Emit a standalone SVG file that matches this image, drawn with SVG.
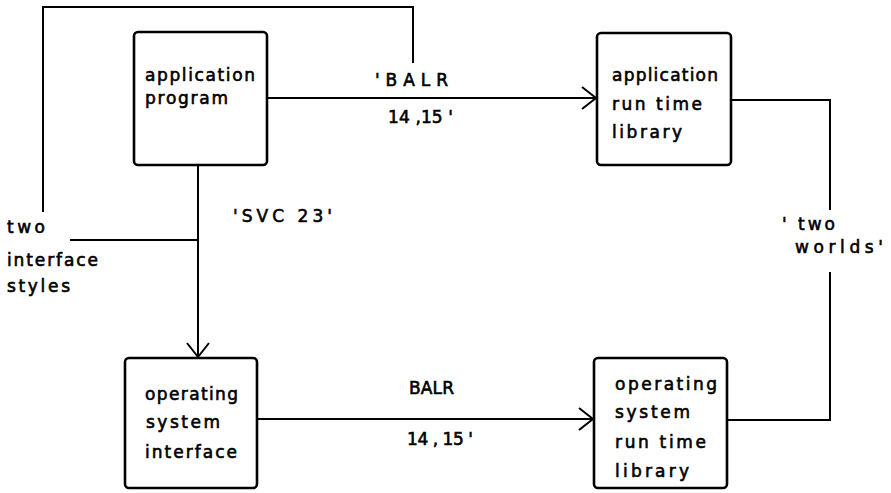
<svg xmlns="http://www.w3.org/2000/svg" width="891" height="493" viewBox="0 0 891 493">
<style>
.box{fill:#fff;stroke:#000;stroke-width:2.6}
.ln{fill:none;stroke:#000;stroke-width:2}
text{font-family:"DejaVu Sans","Liberation Sans",sans-serif;font-size:17px;fill:#000;stroke:#000;stroke-width:0.6}
</style>
<defs>
<marker id="arr" markerUnits="userSpaceOnUse" viewBox="-16 -13 18 26" refX="0" refY="0" markerWidth="18" markerHeight="26" orient="auto">
<path d="M-14,-11 L0,0 L-14,11" fill="none" stroke="#000" stroke-width="2"/>
</marker>
</defs>
<rect width="891" height="493" fill="#fff"/>
<g id="connectors">
<path class="ln" d="M43,212 V7 H413 V63"/>
<path class="ln" d="M70,240 H198"/>
<path class="ln" d="M198,165 V357" marker-end="url(#arr)"/>
<path class="ln" d="M267,98 H596" marker-end="url(#arr)"/>
<path class="ln" d="M257,419 H593" marker-end="url(#arr)"/>
<path class="ln" d="M731,100 H830 V210"/>
<path class="ln" d="M830,272 V420 H727"/>
<text x="375" y="86" textLength="73" lengthAdjust="spacing">'BALR</text>
<text x="388" y="123" textLength="65" lengthAdjust="spacing">14 ,15 '</text>
<text x="233" y="222" textLength="99" lengthAdjust="spacing">'SVC 23'</text>
<text x="409" y="394" textLength="45" lengthAdjust="spacing">BALR</text>
<text x="407" y="445" textLength="66" lengthAdjust="spacing">14 , 15 '</text>
<text x="7" y="233" textLength="38" lengthAdjust="spacing">two</text>
<text x="7" y="266" textLength="91" lengthAdjust="spacing">interface</text>
<text x="7" y="292" textLength="63" lengthAdjust="spacing">styles</text>
<text x="782" y="230" textLength="53" lengthAdjust="spacing">' two</text>
<text x="795" y="253" textLength="88" lengthAdjust="spacing">worlds'</text>
</g>
<g id="app-program">
<rect class="box" x="134" y="32" width="133" height="133" rx="4"/>
<text x="145" y="81" textLength="110" lengthAdjust="spacing">application</text>
<text x="145" y="104" textLength="83" lengthAdjust="spacing">program</text>
</g>
<g id="app-rtl">
<rect class="box" x="597" y="33" width="134" height="132" rx="4"/>
<text x="612" y="81" textLength="106" lengthAdjust="spacing">application</text>
<text x="612" y="110" textLength="90" lengthAdjust="spacing">run time</text>
<text x="612" y="138" textLength="70" lengthAdjust="spacing">library</text>
</g>
<g id="os-interface">
<rect class="box" x="125" y="358" width="132" height="130" rx="4"/>
<text x="145" y="400" textLength="93" lengthAdjust="spacing">operating</text>
<text x="146" y="428" textLength="74" lengthAdjust="spacing">system</text>
<text x="145" y="458" textLength="92" lengthAdjust="spacing">interface</text>
</g>
<g id="os-rtl">
<rect class="box" x="594" y="358" width="133" height="130" rx="4"/>
<text x="615" y="390" textLength="102" lengthAdjust="spacing">operating</text>
<text x="615" y="418" textLength="75" lengthAdjust="spacing">system</text>
<text x="615" y="448" textLength="91" lengthAdjust="spacing">run time</text>
<text x="615" y="477" textLength="74" lengthAdjust="spacing">library</text>
</g>
</svg>
